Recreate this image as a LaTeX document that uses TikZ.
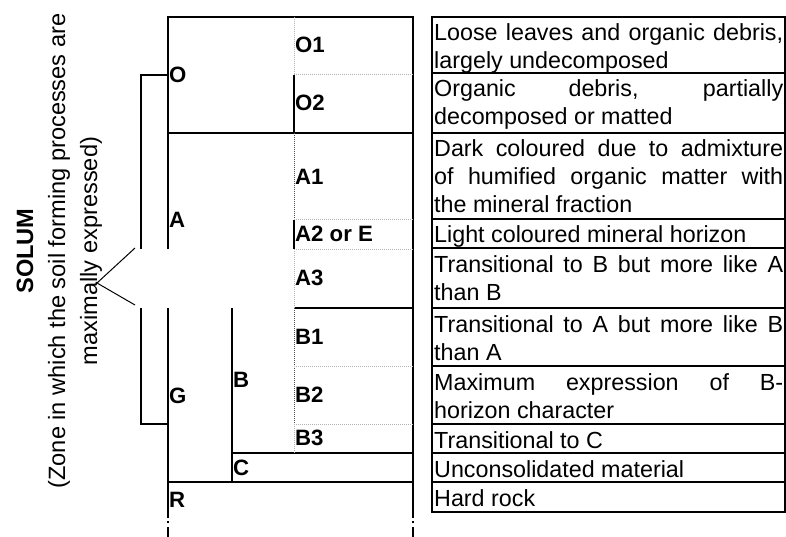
\documentclass[tikz,border=0pt]{standalone}
\usepackage{fontspec}
\setmainfont{Liberation Sans}
\newcommand\JustLine[1]{\makebox[349pt][s]{#1}}
\begin{document}
\begin{tikzpicture}[x=1pt,y=-1pt,
  boxline/.style={line width=2pt},
  brline/.style={line width=1.4pt},
  dotgray/.style={line width=1pt, gray!60, dash pattern=on 1pt off 1pt},
  dotdark/.style={line width=1pt, black!70, dash pattern=on 1pt off 1pt},
  lab/.style={anchor=base west, inner sep=0pt, font=\fontsize{22.2}{28}\selectfont\bfseries},
  desc/.style={anchor=base west, inner sep=0pt, font=\fontsize{23.3}{28}\selectfont},
  rot/.style={rotate=90, anchor=base, inner sep=0pt, font=\fontsize{23.6}{28}\selectfont}]
\useasboundingbox (0,0) rectangle (786,537);

% ---------- left profile column ----------
\coordinate (TL) at (168,17);
\coordinate (TR) at (413,17);
\draw[boxline] (168,249) -- (TL) -- (TR) -- (413,512);
\draw[boxline] (168,308) -- (168,512);
\draw[boxline, dash pattern=on 6pt off 3pt on 2pt off 4pt on 12pt off 2pt] (168,512) -- (168,537);
\draw[boxline, dash pattern=on 6pt off 3pt on 2pt off 4pt on 12pt off 2pt] (413,512) -- (413,537);
\draw[boxline] (168,133) -- (413,133);
\draw[boxline] (294,308) -- (413,308);
\draw[boxline] (232,453) -- (413,453);
\draw[boxline] (168,482) -- (413,482);
\draw[boxline] (232,308) -- (232,482);
% middle divider
\draw[dotgray] (294,17) -- (294,75);
\draw[boxline] (294,75) -- (294,133);
\draw[dotdark] (294,133) -- (294,220);
\draw[boxline] (294,220) -- (294,249);
\draw[dotgray] (294,249) -- (294,308);
\draw[dotdark] (294,308) -- (294,424);
\draw[dotgray] (294,424) -- (294,453);
% sub-horizon dotted separators
\draw[dotgray] (294,75) -- (413,75);
\draw[dotgray] (294,220) -- (413,220);
\draw[dotgray] (294,249) -- (413,249);
\draw[dotgray] (294,366) -- (413,366);
\draw[dotgray] (294,424) -- (413,424);

% bracket and pointer
\draw[brline] (168,75) -- (141,75) -- (141,249);
\draw[brline] (141,308) -- (141,424) -- (168,424);
\coordinate (tip) at (97,283);
\draw[line width=1pt] (135,248) -- (tip) -- (135,305);

% horizon labels
\node[lab] (lO) at (169,83) {O};
\node[lab] (lA) at (169,227) {A};
\node[lab] (lG) at (169,403) {G};
\node[lab] (lB) at (233,387) {B};
\node[lab] (lC) at (233,475) {C};
\node[lab] (lR) at (169,507) {R};
\node[lab] (lO1) at (295,53) {O1};
\node[lab] (lO2) at (295,111) {O2};
\node[lab] (lA1) at (295,185) {A1};
\node[lab] (lA2) at (295,241) {A2 or E};
\node[lab] (lA3) at (295,285) {A3};
\node[lab] (lB1) at (295,344) {B1};
\node[lab] (lB2) at (295,402) {B2};
\node[lab] (lB3) at (295,445) {B3};

% rotated SOLUM text
\node[rot, font=\fontsize{23.6}{28}\selectfont\bfseries] (solum) at (33,251) {SOLUM};
\node[rot] (zone1) at (65,251) {(Zone in which the soil forming processes are};
\node[rot] (zone2) at (97,251) {maximally expressed)};

% ---------- right description column ----------
\draw[boxline] (432,17) rectangle (785,512);
\foreach \yy in {73,133,219,248,308,366,424,453,482}
  \draw[boxline] (432,\yy) -- (785,\yy);

\node[desc] (d1a) at (434,41) {\JustLine{Loose leaves and organic debris,}};
\node[desc] (d1b) at (434,69) {largely undecomposed};
\node[desc] (d2a) at (434,97) {\JustLine{Organic debris, partially}};
\node[desc] (d2b) at (434,125) {decomposed or matted};
\node[desc] (d3a) at (434,157) {\JustLine{Dark coloured due to admixture}};
\node[desc] (d3b) at (434,185) {\JustLine{of humified organic matter with}};
\node[desc] (d3c) at (434,213) {the mineral fraction};
\node[desc] (d4a) at (434,243) {Light coloured mineral horizon};
\node[desc] (d5a) at (434,272) {\JustLine{Transitional to B but more like A}};
\node[desc] (d5b) at (434,300) {than B};
\node[desc] (d6a) at (434,332) {\JustLine{Transitional to A but more like B}};
\node[desc] (d6b) at (434,360) {than A};
\node[desc] (d7a) at (434,390) {\JustLine{Maximum expression of B-}};
\node[desc] (d7b) at (434,418) {horizon character};
\node[desc] (d8a) at (434,448) {Transitional to C};
\node[desc] (d9a) at (434,477) {Unconsolidated material};
\node[desc] (d10a) at (434,506) {Hard rock};
\end{tikzpicture}
\end{document}
